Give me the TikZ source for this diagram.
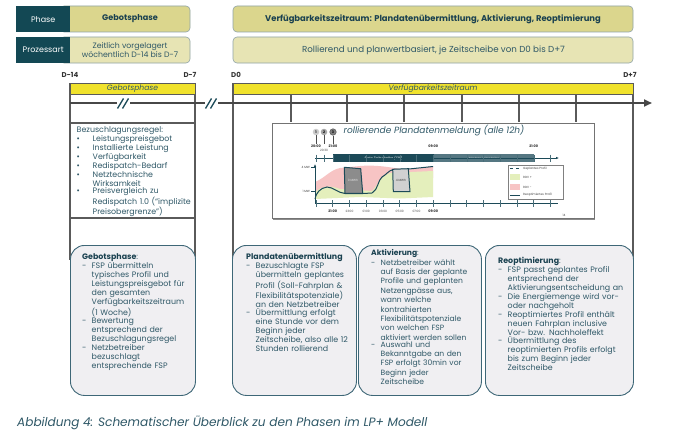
\documentclass[tikz,border=0pt]{standalone}
\usepackage{fontspec}
\setmainfont{Poppins}
\usetikzlibrary{arrows.meta}
\definecolor{hdark}{HTML}{134854}
\definecolor{khaki}{HTML}{DBD68D}
\definecolor{khakil}{HTML}{E7E4B4}
\definecolor{hborder}{HTML}{90A4A8}
\definecolor{ybar}{HTML}{F0E22C}
\definecolor{gridc}{HTML}{5A5A5A}
\definecolor{axisc}{HTML}{474747}
\definecolor{txt}{HTML}{2F5867}
\definecolor{txth}{HTML}{1A4150}
\definecolor{boxfill}{HTML}{F0EFF2}
\definecolor{boxdraw}{HTML}{3E6777}
\definecolor{ctl}{HTML}{1C4A58}
\definecolor{pinkc}{HTML}{F7C4C4}
\definecolor{greenc}{HTML}{E4EFBC}
\newcommand{\bitem}[1]{\par\noindent\makebox[16pt][l]{\textbullet}\parbox[t]{150pt}{#1}}
\newcommand{\ditem}[1]{\par\noindent\makebox[9.5pt][l]{-}\parbox[t]{150pt}{#1}}
\tikzset{
  hdr/.style={fill=hdark, text=white, minimum width=54pt, minimum height=26pt, inner sep=0pt, anchor=north west, font=\fontsize{8}{9}\selectfont},
  khbox/.style={fill=khaki, draw=hborder, line width=0.6pt, rounded corners=4pt},
  khlbox/.style={fill=khakil, draw=hborder, line width=0.6pt, rounded corners=4pt},
  htxt/.style={text=txth, font=\bfseries\fontsize{8.1}{8}\selectfont, inner sep=0pt},
  hltxt/.style={text=txt, font=\fontsize{7.8}{8.4}\selectfont, inner sep=0pt, align=center},
  dlab/.style={text=black!80, font=\bfseries\fontsize{7}{8}\selectfont, inner sep=0pt},
  ybox/.style={fill=ybar, draw=gridc, line width=0.8pt},
  ytxt/.style={text=txt, font=\itshape\fontsize{7.6}{8}\selectfont, inner sep=0pt},
  gridl/.style={draw=gridc, line width=1.1pt},
  brk/.style={draw=ctl, line width=1.3pt},
  bbox/.style={fill=boxfill, draw=boxdraw, line width=0.9pt, rounded corners=14pt, anchor=north west, inner sep=0pt},
  btxt/.style={anchor=north west, inner sep=0pt, text width=#1, align=left, text=txt, font=\fontsize{7.9}{9}\selectfont},
  tiny/.style={inner sep=0pt, font=\fontsize{3}{3.5}\selectfont, text=black!75},
  tinyb/.style={inner sep=0pt, font=\bfseries\fontsize{3.4}{4}\selectfont, text=black!85},
}
\begin{document}
\begin{tikzpicture}[x=1pt,y=-1pt]
\useasboundingbox[fill=white] (0,0) rectangle (679,436);

% ---------- header rows ----------
\draw[khbox] (60,6) rectangle (190,32);
\draw[khlbox] (60,37) rectangle (190,63);
\node[hdr] (phase) at (16,6) {Phase};
\node[hdr] (proz) at (16,37) {Prozessart};
\node[htxt] (hgeb) at (130,19) {Gebotsphase};
\node[hltxt] (hgeb2) at (130,50) {Zeitlich vorgelagert\\wöchentlich D-14 bis D-7};
\draw[khbox] (233,6) rectangle (633,32);
\draw[khlbox] (233,37) rectangle (633,63);
\node[htxt, font=\bfseries\fontsize{8.4}{9}\selectfont] (hver) at (433,19) {Verfügbarkeitszeitraum: Plandatenübermittlung, Aktivierung, Reoptimierung};
\node[hltxt, font=\fontsize{8.7}{9}\selectfont] (hver2) at (433.5,50) {Rollierend und planwertbasiert, je Zeitscheibe von D0 bis D+7};

% ---------- day labels ----------
\node[dlab] (d14) at (70,75) {D-14};
\node[dlab] (d7) at (190,75) {D-7};
\node[dlab] (d0) at (236,75) {D0};
\node[dlab] (dp7) at (630,75) {D+7};

% ---------- grid ----------
\draw[gridl] (70,83) -- (70,260);
\draw[gridl] (195,83) -- (195,260);
\draw[gridl] (233,83) -- (233,260);
\draw[gridl] (633,83) -- (633,260);
\foreach \x in {291,347,404,462,519,576} \draw[gridl] (\x,94) -- (\x,122);
\draw[gridl] (70,123) -- (195,123);
\draw[gridl] (70,218) -- (195,218);
\draw[ybox] (70,83) rectangle (195,94);
\draw[ybox] (233,83) rectangle (633,94);
\node[ytxt] (yg) at (132.5,88.7) {Gebotsphase};
\node[ytxt] (yv) at (433,88.7) {Verfügbarkeitszeitraum};

% ---------- main axis ----------
\coordinate (a0) at (70,103);
\coordinate (a1) at (117,103);
\coordinate (a2) at (130,103);
\coordinate (a3) at (205,103);
\coordinate (a4) at (218,103);
\coordinate (a5) at (652,103);
\draw[draw=axisc, line width=2pt] (a0) -- (a1);
\draw[draw=axisc, line width=2pt] (a2) -- (a3);
\draw[draw=axisc, line width=2pt, -{Triangle[length=8pt,width=7pt]}] (a4) -- (a5);
\draw[brk] (117.5,108.5) -- (123.5,98.5);
\draw[brk] (122.5,108.5) -- (128.5,98.5);
\draw[brk] (205.5,108.5) -- (211.5,98.5);
\draw[brk] (210.5,108.5) -- (216.5,98.5);

% ---------- Bezuschlagungsregel ----------
\node[btxt=170pt] (bez) at (76.5,126.5) {Bezuschlagungsregel:
\bitem{Leistungspreisgebot}
\bitem{Installierte Leistung}
\bitem{Verfügbarkeit}
\bitem{Redispatch-Bedarf}
\bitem{Netztechnische\\Wirksamkeit}
\bitem{Preisvergleich zu\\Redispatch 1.0 (“implizite\\Preisobergrenze”)}};

% ---------- chart ----------
\draw[draw=black!45, line width=2pt] (273,218.5) -- (594.5,218.5);
\draw[draw=black!55, line width=0.9pt, fill=white] (272,123) rectangle (594,218);
\node[inner sep=0pt, text=txt, font=\itshape\fontsize{9}{9}\selectfont] (ctitle) at (434,131) {rollierende Plandatenmeldung (alle 12h)};
% areas
\fill[pinkc] (315,182) .. controls (325,178) and (330,170) .. (340,168) -- (360,166) .. controls (385,164) and (400,171) .. (415,169) -- (433,166) -- (433,178) -- (380,192) -- (315,196) -- cycle;
\fill[greenc] (315,199) -- (315,192) .. controls (322,186) and (330,185) .. (340,189) -- (372,191) .. controls (378,185) and (380,176) .. (390,173) -- (433,171) -- (433,197) -- (400,198.5) -- (360,197) -- cycle;
% profile
\draw[ctl, line width=1pt] (315,199) .. controls (316,193) and (320,188) .. (327,187) .. controls (333,187) and (338,193) .. (345,193.5) -- (363,193.5) -- (372,193) .. controls (378,190) and (378,180) .. (382,177) .. controls (386,175) and (388,171) .. (393,169.5) -- (409,169) -- (433,166.5);
\draw[ctl, line width=1pt, fill=black!45] (344.3,167.3) -- (360.7,168.7) -- (362.7,193.3) -- (345,193.3) -- cycle;
\draw[ctl, line width=1pt, fill=black!18] (392.7,169.3) -- (408.3,168.7) -- (410,191.7) -- (393.3,191.7) -- cycle;
\node[tiny, text=white!90!black] (mwh0) at (353,180) {0 MWh};
\node[tiny] (mwh4) at (401,180) {4 MWh};
% circles
\node[circle, fill=black!20, minimum size=6.5pt, inner sep=0pt, font=\bfseries\fontsize{3.5}{4}\selectfont] (c1) at (316,132) {1};
\node[circle, fill=black!35, minimum size=6.5pt, inner sep=0pt, font=\bfseries\fontsize{3.5}{4}\selectfont] (c2) at (324,132) {2};
\node[circle, fill=black!50, draw=black!65, line width=0.5pt, minimum size=6.5pt, inner sep=0pt, font=\bfseries\fontsize{3.5}{4}\selectfont] (c3) at (333,132) {3};
\draw[black!70, line width=0.4pt] (c1.south) -- (316,143.5);
\draw[black!70, line width=0.4pt] (c2.south) -- (324,143.5);
\draw[black!70, line width=0.4pt] (c3.south) -- (333,143.5);
\node[tinyb] (t2000) at (316,146.5) {20:00};
\node[tinyb] (t2100) at (333,146.5) {21:00};
\node[tiny] (t2030) at (324,150.5) {20:30};
\node[tinyb] (t0900) at (433.25,146.5) {09:00};
\node[tinyb] (t2100b) at (533.75,146.5) {21:00};
% top time axis
\fill[ctl] (333,154) rectangle (434,162);
\fill[ctl!75] (434,154) rectangle (534,162);
\node[inner sep=0pt, text=white, font=\itshape\fontsize{3.4}{4}\selectfont] (z1) at (383.5,158) {Erste Zeitscheibe (12h)};
\node[inner sep=0pt, text=white!70!ctl, font=\fontsize{3}{4}\selectfont] (z2) at (484,158) {Nächste Zeitscheibe};
\draw[ctl, line width=0.6pt, -{Latex[length=3pt,width=2.5pt]}] (315,158) -- (559,158);
\foreach \k in {0,...,14} \draw[ctl!80, line width=0.5pt] ({316+16.75*\k},154.5) -- ({316+16.75*\k},161.5);
\draw[ctl!80, line width=0.5pt] (324,154.5) -- (324,161.5);
% y axis
\draw[ctl, line width=0.6pt, -{Latex[length=3pt,width=2.5pt]}] (315,203) -- (315,164);
\draw[ctl, line width=0.5pt] (311,167) -- (315,167);
\draw[ctl, line width=0.5pt] (311,191) -- (315,191);
\node[tiny, anchor=east] (mw4) at (310,167) {4 MW};
\node[tiny, anchor=east] (mw1) at (310,191) {1 MW};
% bottom axis
\draw[ctl, line width=0.6pt] (315,203) -- (558,203);
\foreach \k in {0,...,14} \draw[ctl!80, line width=0.6pt] ({316+16.75*\k},200) -- ({316+16.75*\k},207);
\node[tinyb] (b21) at (332.75,211) {21:00};
\node[tiny] (b23) at (349.5,211) {23:00};
\node[tiny] (b01) at (366.25,211) {01:00};
\node[tiny] (b03) at (383,211) {03:00};
\node[tiny] (b05) at (399.75,211) {05:00};
\node[tiny] (b07) at (416.5,211) {07:00};
\node[tinyb] (b09) at (433.25,211) {09:00};
% legend
\draw[black!50, line width=0.6pt, fill=white] (508,165) rectangle (563,199);
\draw[ctl, line width=0.8pt, dashed] (510,168.5) -- (520,168.5);
\node[tiny, anchor=west] (l1) at (523,168.5) {Geplantes Profil};
\fill[greenc] (510,174) rectangle (520,180);
\node[tiny, anchor=west] (l2) at (523,177) {RDV +};
\fill[pinkc] (510,184) rectangle (520,190);
\node[tiny, anchor=west] (l3) at (523,187) {RDV -};
\draw[ctl, line width=0.8pt] (510,195) -- (520,195);
\node[tiny, anchor=west] (l4) at (523,195) {Reoptimiertes Profil};
\node[tiny] (pg) at (564,215) {14};

% ---------- bottom boxes ----------
\node[bbox, minimum width=125pt, minimum height=150pt] (box1) at (70,245) {};
\node[bbox, minimum width=124pt, minimum height=150pt] (box2) at (232,245) {};
\node[bbox, minimum width=123pt, minimum height=150pt] (box3) at (358,245) {};
\node[bbox, minimum width=148pt, minimum height=150pt] (box4) at (485,245) {};

\node[btxt=170pt] (t1) at (82,253.5) {{\bfseries\color{txth}Gebotsphase}:
\ditem{FSP übermitteln\\typisches Profil und\\Leistungspreisgebot für\\den gesamten\\Verfügbarkeitszeitraum\\(1 Woche)}
\ditem{Bewertung\\entsprechend der\\Bezuschlagungsregel}
\ditem{Netzbetreiber\\bezuschlagt\\entsprechende FSP}};

\node[btxt=170pt] (t2) at (246,253) {{\bfseries\color{txth}Plandatenübermittlung}
\ditem{Bezuschlagte FSP\\übermitteln geplantes\\Profil (Soll-Fahrplan \&\\Flexibilitätspotenziale)\\an den Netzbetreiber}
\ditem{Übermittlung erfolgt\\eine Stunde vor dem\\Beginn jeder\\Zeitscheibe, also alle 12\\Stunden rollierend}};

\node[btxt=170pt, font=\fontsize{7.6}{9.4}\selectfont] (t3) at (371,249.5) {{\bfseries\color{txth}Aktivierung}:
\ditem{Netzbetreiber wählt\\auf Basis der geplante\\Profile und geplanten\\Netzengpässe aus,\\wann welche\\kontrahierten\\Flexibilitätspotenziale\\von welchen FSP\\aktiviert werden sollen}
\ditem{Auswahl und\\Bekanntgabe an den\\FSP erfolgt 30min vor\\Beginn jeder\\Zeitscheibe}};

\node[btxt=170pt] (t4) at (498,256.5) {{\bfseries\color{txth}Reoptimierung}:
\ditem{FSP passt geplantes Profil\\entsprechend der\\Aktivierungsentscheidung an}
\ditem{Die Energiemenge wird vor-\\oder nachgeholt}
\ditem{Reoptimiertes Profil enthält\\neuen Fahrplan inclusive\\Vor- bzw. Nachholeffekt}
\ditem{Übermittlung des\\reoptimierten Profils erfolgt\\bis zum Beginn jeder\\Zeitscheibe}};

% ---------- caption ----------
\node[anchor=west, inner sep=0pt, text=txt, font=\itshape\fontsize{12.1}{14}\selectfont] (cap) at (17,423) {Abbildung 4: Schematischer Überblick zu den Phasen im LP+ Modell};
\end{tikzpicture}
\end{document}
